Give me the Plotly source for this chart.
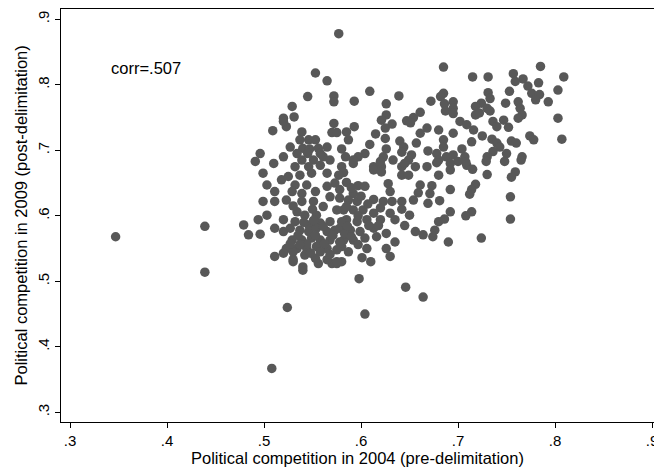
import plotly.graph_objects as go

# Political competition: 2004 (pre-delimitation) vs 2009 (post-delimitation)
pairs = [
    (0.347, 0.568), (0.439, 0.584), (0.439, 0.514), (0.508, 0.367), (0.524, 0.460),
    (0.604, 0.450), (0.646, 0.491), (0.664, 0.476), (0.598, 0.504), (0.540, 0.517),
    (0.530, 0.530), (0.556, 0.527), (0.570, 0.527), (0.575, 0.527),
    (0.577, 0.878), (0.553, 0.818), (0.565, 0.806), (0.685, 0.827), (0.715, 0.812), (0.731, 0.812),
    (0.545, 0.782), (0.572, 0.783), (0.572, 0.774), (0.529, 0.767), (0.520, 0.749),
    (0.531, 0.751), (0.523, 0.736), (0.520, 0.744), (0.509, 0.730), (0.572, 0.741),
    (0.570, 0.727), (0.575, 0.727), (0.585, 0.728), (0.539, 0.728), (0.537, 0.716),
    (0.546, 0.716), (0.553, 0.716), (0.540, 0.703), (0.534, 0.695), (0.547, 0.702),
    (0.556, 0.703), (0.565, 0.705), (0.539, 0.685), (0.551, 0.685), (0.561, 0.690),
    (0.568, 0.685), (0.580, 0.702), (0.584, 0.690), (0.587, 0.716), (0.496, 0.695),
    (0.491, 0.683), (0.510, 0.680), (0.520, 0.690), (0.532, 0.675), (0.593, 0.775),
    (0.609, 0.790), (0.639, 0.783), (0.626, 0.771), (0.672, 0.775), (0.685, 0.787),
    (0.682, 0.782), (0.686, 0.771), (0.695, 0.774), (0.695, 0.764), (0.687, 0.760),
    (0.695, 0.756), (0.626, 0.754), (0.621, 0.746), (0.632, 0.740), (0.625, 0.734),
    (0.647, 0.745), (0.654, 0.750), (0.661, 0.758), (0.651, 0.742), (0.702, 0.744),
    (0.709, 0.739), (0.593, 0.736), (0.615, 0.725), (0.625, 0.718), (0.668, 0.734),
    (0.661, 0.726), (0.680, 0.731), (0.695, 0.726), (0.640, 0.714), (0.644, 0.705),
    (0.642, 0.697), (0.657, 0.711), (0.685, 0.716), (0.685, 0.705), (0.669, 0.699),
    (0.678, 0.695), (0.688, 0.690), (0.680, 0.685), (0.695, 0.693), (0.704, 0.702),
    (0.707, 0.690), (0.626, 0.702), (0.623, 0.690), (0.609, 0.709), (0.604, 0.695),
    (0.597, 0.690), (0.592, 0.685), (0.652, 0.693), (0.649, 0.685), (0.656, 0.675),
    (0.642, 0.675), (0.668, 0.675), (0.613, 0.675), (0.621, 0.675), (0.580, 0.675),
    (0.633, 0.685), (0.709, 0.677),
    (0.785, 0.828), (0.757, 0.817), (0.767, 0.809), (0.759, 0.805), (0.809, 0.812),
    (0.772, 0.798), (0.783, 0.803), (0.776, 0.787), (0.784, 0.785), (0.780, 0.777),
    (0.803, 0.792), (0.793, 0.774), (0.753, 0.790), (0.731, 0.788), (0.733, 0.779),
    (0.749, 0.772), (0.762, 0.774), (0.764, 0.764), (0.766, 0.754), (0.762, 0.749),
    (0.724, 0.772), (0.718, 0.767), (0.730, 0.764), (0.718, 0.754), (0.722, 0.757),
    (0.733, 0.760), (0.803, 0.749), (0.747, 0.746), (0.736, 0.744), (0.740, 0.736),
    (0.752, 0.735), (0.716, 0.731), (0.807, 0.717), (0.774, 0.722), (0.778, 0.716),
    (0.725, 0.722), (0.735, 0.717), (0.740, 0.711), (0.743, 0.705), (0.755, 0.714),
    (0.760, 0.711), (0.714, 0.713), (0.736, 0.698), (0.750, 0.695), (0.730, 0.690),
    (0.766, 0.690),
    (0.708, 0.682), (0.729, 0.683), (0.748, 0.683), (0.765, 0.685), (0.715, 0.671),
    (0.730, 0.663), (0.759, 0.667), (0.755, 0.659), (0.718, 0.648), (0.714, 0.640),
    (0.712, 0.633), (0.754, 0.629), (0.714, 0.606), (0.708, 0.600), (0.754, 0.595),
    (0.724, 0.566),
    (0.592, 0.680), (0.620, 0.683), (0.645, 0.680), (0.678, 0.681), (0.692, 0.680),
    (0.700, 0.683), (0.582, 0.666), (0.613, 0.670), (0.621, 0.667), (0.642, 0.662),
    (0.649, 0.662), (0.680, 0.662), (0.692, 0.670), (0.585, 0.651), (0.597, 0.646),
    (0.604, 0.645), (0.628, 0.649), (0.630, 0.637), (0.661, 0.647), (0.659, 0.635),
    (0.673, 0.646), (0.671, 0.634), (0.692, 0.640), (0.592, 0.634), (0.587, 0.624),
    (0.596, 0.622), (0.613, 0.625), (0.623, 0.622), (0.632, 0.622), (0.642, 0.622),
    (0.654, 0.624), (0.669, 0.619), (0.681, 0.623), (0.582, 0.609), (0.592, 0.609),
    (0.602, 0.609), (0.613, 0.604), (0.630, 0.604), (0.642, 0.610), (0.650, 0.601),
    (0.692, 0.606), (0.585, 0.594), (0.596, 0.591), (0.606, 0.594), (0.620, 0.594),
    (0.635, 0.594), (0.645, 0.585), (0.656, 0.576), (0.664, 0.571), (0.674, 0.568),
    (0.676, 0.578), (0.680, 0.591), (0.686, 0.595), (0.690, 0.560), (0.578, 0.581),
    (0.589, 0.578), (0.599, 0.576), (0.613, 0.581), (0.616, 0.568), (0.626, 0.573),
    (0.635, 0.560), (0.582, 0.563), (0.592, 0.563), (0.604, 0.566), (0.606, 0.550),
    (0.626, 0.550), (0.580, 0.553), (0.601, 0.536), (0.610, 0.530), (0.630, 0.538),
    (0.580, 0.530),
    (0.546, 0.675), (0.558, 0.677), (0.499, 0.665), (0.518, 0.655), (0.525, 0.660),
    (0.537, 0.662), (0.549, 0.665), (0.565, 0.665), (0.577, 0.662), (0.503, 0.647),
    (0.532, 0.647), (0.544, 0.647), (0.573, 0.650), (0.565, 0.645), (0.511, 0.637),
    (0.529, 0.637), (0.539, 0.634), (0.553, 0.637), (0.568, 0.629), (0.578, 0.627),
    (0.499, 0.622), (0.511, 0.622), (0.523, 0.624), (0.539, 0.622), (0.551, 0.622),
    (0.561, 0.614), (0.534, 0.606), (0.542, 0.601), (0.554, 0.601), (0.575, 0.609),
    (0.585, 0.614), (0.503, 0.601), (0.494, 0.594), (0.520, 0.594), (0.532, 0.591),
    (0.546, 0.586), (0.558, 0.589), (0.568, 0.591), (0.580, 0.591), (0.479, 0.586),
    (0.484, 0.571), (0.496, 0.572), (0.511, 0.581), (0.520, 0.576), (0.527, 0.581),
    (0.537, 0.578), (0.546, 0.576), (0.554, 0.581), (0.565, 0.576), (0.573, 0.578),
    (0.583, 0.573), (0.529, 0.563), (0.539, 0.563), (0.549, 0.566), (0.558, 0.563),
    (0.568, 0.563), (0.578, 0.560), (0.523, 0.550), (0.534, 0.550), (0.544, 0.550),
    (0.554, 0.553), (0.565, 0.550), (0.575, 0.548), (0.511, 0.538), (0.520, 0.543),
    (0.530, 0.545), (0.542, 0.540), (0.553, 0.535), (0.565, 0.533), (0.575, 0.530),
    (0.530, 0.533), (0.540, 0.522),
    # points hidden inside the solid central blob (estimated)
    (0.535, 0.570), (0.544, 0.557), (0.553, 0.570), (0.562, 0.557), (0.571, 0.570),
    (0.558, 0.545), (0.548, 0.543), (0.568, 0.541), (0.537, 0.556), (0.527, 0.557),
    (0.561, 0.584), (0.551, 0.593), (0.541, 0.590), (0.586, 0.584), (0.590, 0.568),
    (0.597, 0.556), (0.587, 0.545), (0.618, 0.585), (0.608, 0.585), (0.597, 0.600),
    (0.620, 0.612), (0.590, 0.643), (0.600, 0.630), (0.578, 0.640), (0.607, 0.618),
    (0.545, 0.695), (0.558, 0.695), (0.527, 0.705), (0.550, 0.610), (0.530, 0.615),
]
comp_2004 = [p[0] for p in pairs]
comp_2009 = [p[1] for p in pairs]

tick_vals = [0.3, 0.4, 0.5, 0.6, 0.7, 0.8, 0.9]
tick_text = [".3", ".4", ".5", ".6", ".7", ".8", ".9"]
corr_label = "corr=.507"
x_title = "Political competition in 2004 (pre-delimitation)"
y_title = "Political competition in 2009 (post-delimitation)"

FONT = "Liberation Sans, Arial, sans-serif"

fig = go.Figure()
fig.add_trace(go.Scatter(
    x=comp_2004, y=comp_2009, mode="markers",
    marker=dict(size=9.5, color="rgb(88,88,88)", line=dict(width=0)),
    hoverinfo="x+y", showlegend=False,
))

fig.add_annotation(
    x=0.3405, y=0.826, xref="x", yref="y", text=corr_label, showarrow=False,
    xanchor="left", yanchor="middle", font=dict(family=FONT, size=16.5, color="black"),
)
fig.add_annotation(
    x=0.5, y=0, xref="paper", yref="paper", text=x_title, showarrow=False,
    xanchor="center", yanchor="middle", yshift=-36,
    font=dict(family=FONT, size=16.5, color="black"),
)
fig.add_annotation(
    x=0, y=0.5, xref="paper", yref="paper", text=y_title, showarrow=False,
    xanchor="center", yanchor="middle", xshift=-41, textangle=-90,
    font=dict(family=FONT, size=16.5, color="black"),
)

fig.update_layout(
    width=654, height=470,
    margin=dict(l=61, r=0, t=9, b=48),
    paper_bgcolor="white", plot_bgcolor="white",
    font=dict(family=FONT, size=15, color="black"),
    xaxis=dict(
        range=[0.2907, 0.902], tickvals=tick_vals, ticktext=tick_text,
        ticks="outside", ticklen=5, tickwidth=1, tickcolor="black",
        showline=True, linecolor="black", linewidth=1.2, mirror=True,
        showgrid=False, zeroline=False, automargin=False,
        ticklabeloverflow="allow",
        tickfont=dict(family=FONT, size=15),
    ),
    yaxis=dict(
        range=[0.2852, 0.9157], tickvals=tick_vals, ticktext=tick_text,
        ticks="outside", ticklen=5, tickwidth=1, tickcolor="black",
        showline=True, linecolor="black", linewidth=1.2, mirror=False,
        showgrid=False, zeroline=False, tickangle=-90, automargin=False,
        ticklabeloverflow="allow",
        tickfont=dict(family=FONT, size=15),
    ),
)

fig.write_html(
    "out.html",
    config={"displayModeBar": False},
    post_script="document.body.style.margin='0';document.body.style.overflow='hidden';",
)
